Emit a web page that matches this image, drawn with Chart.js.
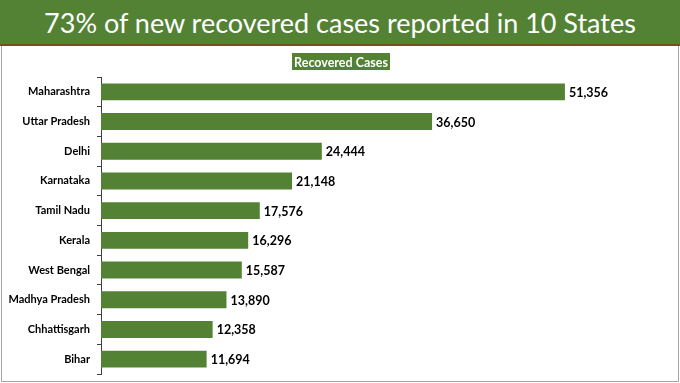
<!DOCTYPE html>
<html>
<head>
<meta charset="utf-8">
<script src="https://cdn.jsdelivr.net/npm/chart.js@4/dist/chart.umd.min.js"></script>
<style>
  body { margin: 0; width: 680px; height: 383px; overflow: hidden; background: #fff; font-family: Lato, sans-serif; }
  #header { position: absolute; left: 0; top: 0; width: 680px; height: 44px; background: #548235;
            border-bottom: 2px solid #7a4e1c; color: #fff; font-size: 27px; text-align: center; line-height: 45px; }
  #panel { position: absolute; left: 1px; top: 46px; width: 676px; height: 335px;
           border: 1px solid #a6a6a6; border-top: none; }
  canvas { display: block; }
</style>
</head>
<body>
<div id="header">73% of new recovered cases reported in 10 States</div>
<div id="panel"><canvas id="chart" width="676" height="335"></canvas></div>
<script>
// chart data
var states = ["Maharashtra", "Uttar Pradesh", "Delhi", "Karnataka", "Tamil Nadu",
              "Kerala", "West Bengal", "Madhya Pradesh", "Chhattisgarh", "Bihar"]
var recovered = [51356, 36650, 24444, 21148, 17576, 16296, 15587, 13890, 12358, 11694]
var seriesName = "Recovered Cases"

var green = "#548235"

// numbers at the end of each bar
var valueLabels = {
    id: "valueLabels",
    afterDatasetsDraw: function(chart) {
        var ctx = chart.ctx
        var meta = chart.getDatasetMeta(0)
        ctx.save()
        ctx.font = "bold 12.5px Lato"
        ctx.fillStyle = "#000"
        ctx.textBaseline = "middle"
        meta.data.forEach(function(bar, i) {
            ctx.fillText(recovered[i].toLocaleString("en-US"), bar.x + 4, bar.y + 1)
        })
        ctx.restore()
    }
}

// green box legend at the top
var boxLegend = {
    id: "boxLegend",
    afterDraw: function(chart) {
        var ctx = chart.ctx
        ctx.save()
        ctx.font = "bold 12.5px Lato"
        var w = 98, h = 17
        var x = chart.width / 2 - w / 2 + 1, y = 7
        ctx.fillStyle = green
        ctx.fillRect(x, y, w, h)
        ctx.fillStyle = "#fff"
        ctx.textAlign = "center"
        ctx.textBaseline = "middle"
        ctx.fillText(chart.data.datasets[0].label, x + w / 2, y + h / 2 + 1)
        ctx.restore()
    }
}

new Chart(document.getElementById("chart"), {
    type: "bar",
    data: {
        labels: states,
        datasets: [{
            label: seriesName,
            data: recovered,
            backgroundColor: green,
            categoryPercentage: 1,
            barPercentage: 0.57
        }]
    },
    options: {
        indexAxis: "y",
        responsive: false,
        animation: false,
        layout: { padding: { top: 31, bottom: 7, right: 35, left: 0 } },
        plugins: { legend: { display: false }, tooltip: { enabled: false } },
        scales: {
            x: { display: false, min: 0, max: 60000 },
            y: {
                // fixed label column so the axis sits where the original has it
                afterFit: function(scale) { scale.width = 99; scale.paddingTop = 0; scale.paddingBottom = 0 },
                grid: { drawOnChartArea: false, drawTicks: true, tickLength: 4, color: "#404040", offset: true },
                border: { color: "#404040", width: 1 },
                ticks: { color: "#000", padding: 7, font: { family: "Lato", weight: "bold", size: 11 } }
            }
        }
    },
    plugins: [valueLabels, boxLegend]
})
</script>
</body>
</html>
